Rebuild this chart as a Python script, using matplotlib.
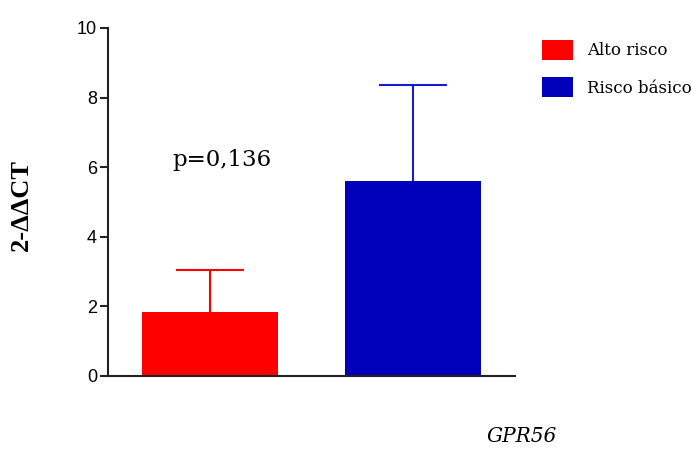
import numpy as np
import matplotlib.pyplot as plt
from matplotlib.patches import Patch

# group data
groups = ["Alto risco", "Risco básico"]
means = [1.84, 5.60]
sd_upper = [1.21, 2.76]
colors = ["#ff0000", "#0000bb"]
err_colors = ["#ff0000", "#1a1acc"]

fig = plt.figure(figsize=(6.91, 4.51), dpi=100)
ax = fig.add_axes([108/691, 1-376/451, (515-108)/691, (376-28)/451])

x = np.arange(len(groups))
ax.bar(x, means, width=0.67, color=colors, zorder=2)
# upper-only error bars
tops = np.array(means) + np.array(sd_upper)
cap = 0.167
for i in range(len(groups)):
    ax.vlines(x[i], means[i], tops[i], color=err_colors[i], lw=1.5, zorder=1)
    ax.hlines(tops[i], x[i]-cap, x[i]+cap, color=err_colors[i], lw=1.5, zorder=1)

ax.set_xlim(-0.5, 1.5)
ax.set_ylim(0, 10)
ax.set_yticks([0, 2, 4, 6, 8, 10])
ax.set_xticks([])
for s in ["top", "right"]:
    ax.spines[s].set_visible(False)
for s in ["left", "bottom"]:
    ax.spines[s].set_linewidth(1.5)
    ax.spines[s].set_color("#222222")
ax.tick_params(axis="y", length=6, width=1.5, color="#222222", labelsize=13,
               pad=2)
for lbl in ax.get_yticklabels():
    lbl.set_family("Liberation Sans")

fig.text(21/691, 1-205/451, "2-ΔΔCT", family="Liberation Serif", fontweight="bold",
         fontsize=19, rotation=90, ha="center", va="center")

ax.text(0.06, 6.2, "p=0,136", family="DejaVu Serif", fontsize=16.5,
        ha="center", va="center")

fig.text(522/691, 1-437/451, "GPR56", family="DejaVu Serif", style="italic",
         fontsize=14.5, ha="center", va="center")

handles = [Patch(facecolor=c) for c in colors]
fig.legend(handles, groups, loc="upper left", bbox_to_anchor=(527/691, 1-25/451),
           frameon=False, prop={"family": "DejaVu Serif", "size": 12},
           handlelength=1.86, handleheight=1.45, labelspacing=1.05, handletextpad=0.85)

fig.savefig("out.png", dpi=100)
